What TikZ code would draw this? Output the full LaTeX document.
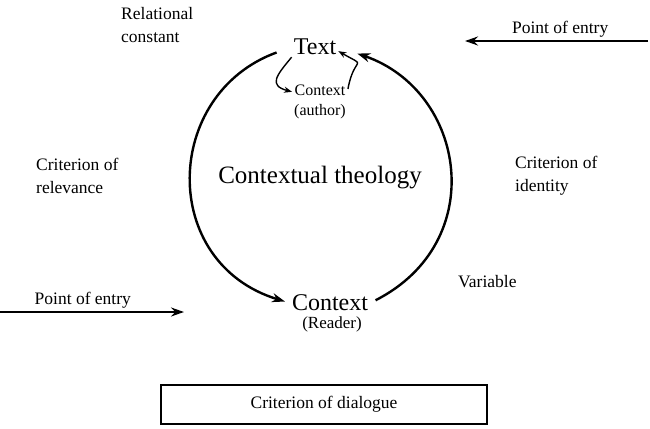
\documentclass[tikz,border=0pt]{standalone}
\usepackage{fontspec}
\setmainfont{Liberation Serif}
\usetikzlibrary{arrows.meta, positioning}

\begin{document}
\begin{tikzpicture}[
    x=1pt, y=1pt,
    every node/.style={inner sep=2pt},
    big/.style={font=\fontsize{24}{28}\selectfont},
    small/.style={font=\fontsize{16}{20}\selectfont, align=center},
    label/.style={font=\fontsize{17.5}{23}\selectfont, align=left, anchor=west},
    flow/.style={-{Stealth[length=13pt, width=9pt]}, line width=2.4pt},
    loopflow/.style={-{Stealth[length=8pt, width=6pt]}, line width=1.4pt},
    entry/.style={-{Stealth[length=13pt, width=9pt]}, line width=2.4pt},
    dialogue/.style={rectangle, draw, line width=1.4pt,
                     minimum width=326pt, minimum height=39pt,
                     font=\fontsize{17.5}{20}\selectfont}
]
\useasboundingbox (0,0) rectangle (650,-428);

%% --- circle of text and context ---
\node[big] (text) at (315,-47) {Text};
\node[small] (auth) at (320,-102) {Context\\(author)};
\node[big, font=\fontsize{25}{28}\selectfont] (theo) at (320,-178) {Contextual theology};
\node[big] (ctx) at (330,-303) {Context};
\node[small, font=\fontsize{17}{20}\selectfont] (reader) at (332,-324) {(Reader)};

\draw[flow, shorten <=16pt, shorten >=5pt]
    (text.west) to[out=200, in=163, looseness=1.37] (ctx.west);
\draw[flow, shorten <=6pt, shorten >=20pt]
    (ctx.east) to[out=27, in=341, looseness=1.34] (text.east);

\draw[loopflow] (text.south west) to[out=230, in=165, looseness=1.8] (auth.160);
\draw[loopflow] (auth.25) to[out=80, in=330, looseness=2.3] (text.-10);

%% --- side labels ---
\node[label] (relc) at (119,-25.5) {Relational\\constant};
\node[label] (relv) at (34,-176) {Criterion of\\relevance};
\node[label] (iden) at (513,-176) {Criterion of\\identity};
\node[label] (vari) at (456,-282) {Variable};

%% --- points of entry ---
\coordinate (in1a) at (648,-41);
\coordinate (in1b) at (465,-41);
\coordinate (in2a) at (0,-312);
\coordinate (in2b) at (184,-312);
\draw[entry] (in1a) -- node[label, anchor=south, pos=0.48, yshift=1pt] {Point of entry} (in1b);
\draw[entry] (in2a) -- node[label, anchor=south, pos=0.45, yshift=1pt] {Point of entry} (in2b);

%% --- dialogue box ---
\node[dialogue] (dial) at (324,-404.5) {Criterion of dialogue};

\end{tikzpicture}
\end{document}
